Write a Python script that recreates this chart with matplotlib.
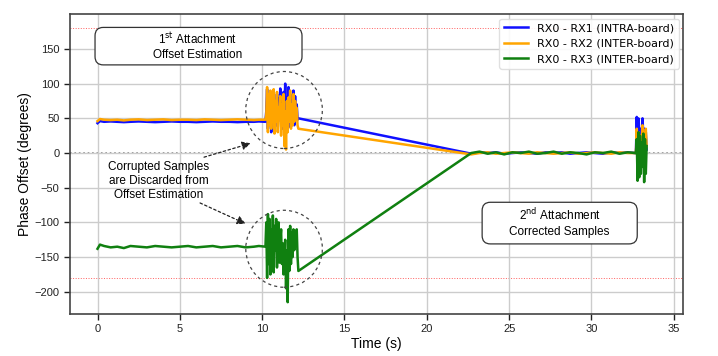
import matplotlib
matplotlib.use("Agg")
import matplotlib.pyplot as plt
from matplotlib.patches import Ellipse, FancyBboxPatch

# flat part before the first attachment
t_pre = [0.0, 0.15, 0.4, 0.8, 1.2, 1.6, 2.0, 2.5, 3.0, 3.5, 4.0, 4.5, 5.0, 5.5, 6.0,
         6.5, 7.0, 7.5, 8.0, 8.5, 9.0, 9.5, 9.8, 10.2]
rx1_pre = [43, 46, 45, 45.5, 45, 44.5, 45, 45.5, 45, 44.5, 45, 45.5, 45, 45, 44.5,
           45, 45.5, 45, 45, 44.5, 45, 45, 45.5, 45]
rx2_pre = [46, 49, 48, 47.5, 48, 47, 48, 48.5, 47.5, 48, 48.5, 47.5, 48, 48, 47.5,
           48.5, 48, 47.5, 48, 48.5, 48, 47.5, 48, 48]
rx3_pre = [-138, -132, -134, -136, -135, -137, -134, -135, -136, -134, -135, -136, -135, -134, -136,
           -135, -134, -136, -135, -134, -136, -135, -134, -135]

# corrupted samples
t_burst = [10.25, 10.30, 10.35, 10.40, 10.45, 10.50, 10.55, 10.60, 10.65, 10.70,
           10.75, 10.80, 10.85, 10.90, 10.95, 11.00, 11.05, 11.10, 11.15, 11.20,
           11.25, 11.30, 11.35, 11.40, 11.45, 11.50, 11.55, 11.60, 11.65, 11.70,
           11.75, 11.80, 11.85, 11.90, 11.95, 12.00, 12.05, 12.10, 12.15, 12.20]
rx1_burst = [60, 92, 35, 80, 45, 88, 30, 75, 55, 90, 40, 70, 50, 85, 38, 78, 62, 93, 45, 72,
             35, 88, 55, 100, 42, 80, 60, 95, 38, 85, 50, 75, 45, 90, 40, 82, 55, 70, 48, 50]
rx2_burst = [55, 95, 30, 85, 40, 90, 35, 70, 60, 92, 28, 75, 45, 88, 30, 65, 50, 82, 25, 70,
             40, 85, 10, 60, 5, 75, 30, 80, 45, 90, 35, 70, 40, 85, 45, 75, 50, 65, 40, 35]
rx3_burst = [-100, -180, -88, -160, -95, -175, -110, -150, -90, -172, -105, -140, -95, -165, -120,
             -100, -158, -125, -110, -160, -130, -175, -150, -125, -195, -140, -215, -110, -170, -105,
             -160, -115, -150, -110, -140, -120, -130, -110, -150, -170]

# second attachment, corrected samples
t_post = [22.7, 23.2, 23.7, 24.2, 24.7, 25.2, 25.7, 26.2, 26.7, 27.2, 27.7, 28.2,
          28.7, 29.2, 29.7, 30.2, 30.7, 31.2, 31.7, 32.2, 32.65]
rx1_post = [-1, 1, 0, 1, -1, 0, 1, 0, -1, 1, 0, 1, -1, 0, 1, 0, -1, 1, 0, 1, 0]
rx2_post = [-2, 0, 1, -1, 0, 1, 0, -1, 1, 0, -1, 0, 1, -1, 0, 1, 0, -1, 1, 0, 0]
rx3_post = [0, 2, -1, 1, -2, 1, 0, 2, -1, 0, 2, -1, 1, 0, -2, 1, 0, 2, -1, 1, 0]

t_end = [32.70, 32.75, 32.80, 32.85, 32.90, 32.95, 33.00, 33.05, 33.10, 33.15, 33.20, 33.25, 33.30, 33.35]
rx1_end = [0, 52, 10, 50, 20, 35, 15, 30, 50, 25, 35, 10, 30, 5]
rx2_end = [0, 35, -10, 30, 5, 25, -5, 20, 40, 15, 30, 0, 35, 10]
rx3_end = [0, 20, -40, 30, -35, 25, -30, 15, -20, 28, -42, 20, -30, 10]

t_all = t_pre + t_burst + t_post + t_end
rx1 = rx1_pre + rx1_burst + rx1_post + rx1_end
rx2 = rx2_pre + rx2_burst + rx2_post + rx2_end
rx3 = rx3_pre + rx3_burst + rx3_post + rx3_end

labels = ["RX0 - RX1 (INTRA-board)", "RX0 - RX2 (INTER-board)", "RX0 - RX3 (INTER-board)"]
colors = ["#1010ff", "#ffa500", "#108010"]

fig = plt.figure(figsize=(7.18, 3.56), dpi=100)
ax = fig.add_axes([0.0975, 0.118, 0.854, 0.842])

ax.grid(True, color="#cccccc", linewidth=1.0, zorder=0)
ax.axhline(0, color="#888888", linestyle=":", linewidth=1.2, zorder=1)
ax.axhline(180, color="#ff6060", linestyle=":", linewidth=0.7, zorder=1)
ax.axhline(-180, color="#ff6060", linestyle=":", linewidth=0.7, zorder=1)

for y, lab, c in zip([rx1, rx2, rx3], labels, colors):
    ax.plot(t_all, y, color=c, linewidth=1.8, label=lab, zorder=3)

ax.set_xlim(-1.67, 35.57)
ax.set_ylim(-232, 200)
ax.set_xticks([0, 5, 10, 15, 20, 25, 30, 35])
ax.set_yticks([-200, -150, -100, -50, 0, 50, 100, 150])

font = "Liberation Sans"
for lbl in ax.get_xticklabels() + ax.get_yticklabels():
    lbl.set_fontfamily(font)
    lbl.set_fontsize(8)
ax.tick_params(colors="#222222", length=4, width=1)
ax.set_xlabel("Time (s)", fontfamily=font, fontsize=10, labelpad=2)
ax.set_ylabel("Phase Offset (degrees)", fontfamily=font, fontsize=10, labelpad=2)
for s in ax.spines.values():
    s.set_color("#444444")
    s.set_linewidth(1.2)

leg = ax.legend(loc="upper right", fontsize=8, handlelength=2.2, framealpha=0.9,
                borderaxespad=0.4, labelspacing=0.5)
leg.get_frame().set_edgecolor("#dddddd")

# text boxes
box1 = FancyBboxPatch((-0.15, 127), 12.57, 54, boxstyle="round,pad=0,rounding_size=0.5",
                      mutation_aspect=24, facecolor="white", edgecolor="#333333", linewidth=0.9, zorder=4)
ax.add_patch(box1)
ax.text(6.1, 154, "1$^{\\mathrm{st}}$ Attachment\nOffset Estimation", ha="center", va="center",
        fontfamily=font, fontsize=8.5, zorder=5, linespacing=1.3)

box2 = FancyBboxPatch((23.36, -131), 9.42, 60, boxstyle="round,pad=0,rounding_size=0.5",
                      mutation_aspect=24, facecolor="white", edgecolor="#333333", linewidth=0.9, zorder=4)
ax.add_patch(box2)
ax.text(28.07, -100, "2$^{\\mathrm{nd}}$ Attachment\nCorrected Samples", ha="center", va="center",
        fontfamily=font, fontsize=8.5, zorder=5, linespacing=1.3)

# dashed circles around the corrupted samples
for cy in [62, -138]:
    ax.add_patch(Ellipse((11.33, cy), 4.65, 111, fill=False, edgecolor="#444444",
                         linestyle=(0, (2.5, 2.5)), linewidth=0.9, zorder=4))

ax.text(3.7, -40, "Corrupted Samples\nare Discarded from\nOffset Estimation", ha="center", va="center",
        fontfamily=font, fontsize=8.5, zorder=5, linespacing=1.2)
for tail, head in [((6.47, -6), (9.3, 14)), ((6.23, -72), (9.0, -102))]:
    ax.annotate("", xy=head, xytext=tail,
                arrowprops=dict(arrowstyle="-|>,head_length=0.5,head_width=0.25", color="#222222",
                                linestyle=(0, (2, 2)), linewidth=0.9, shrinkA=0, shrinkB=0), zorder=5)

fig.savefig("out.png", dpi=100)
